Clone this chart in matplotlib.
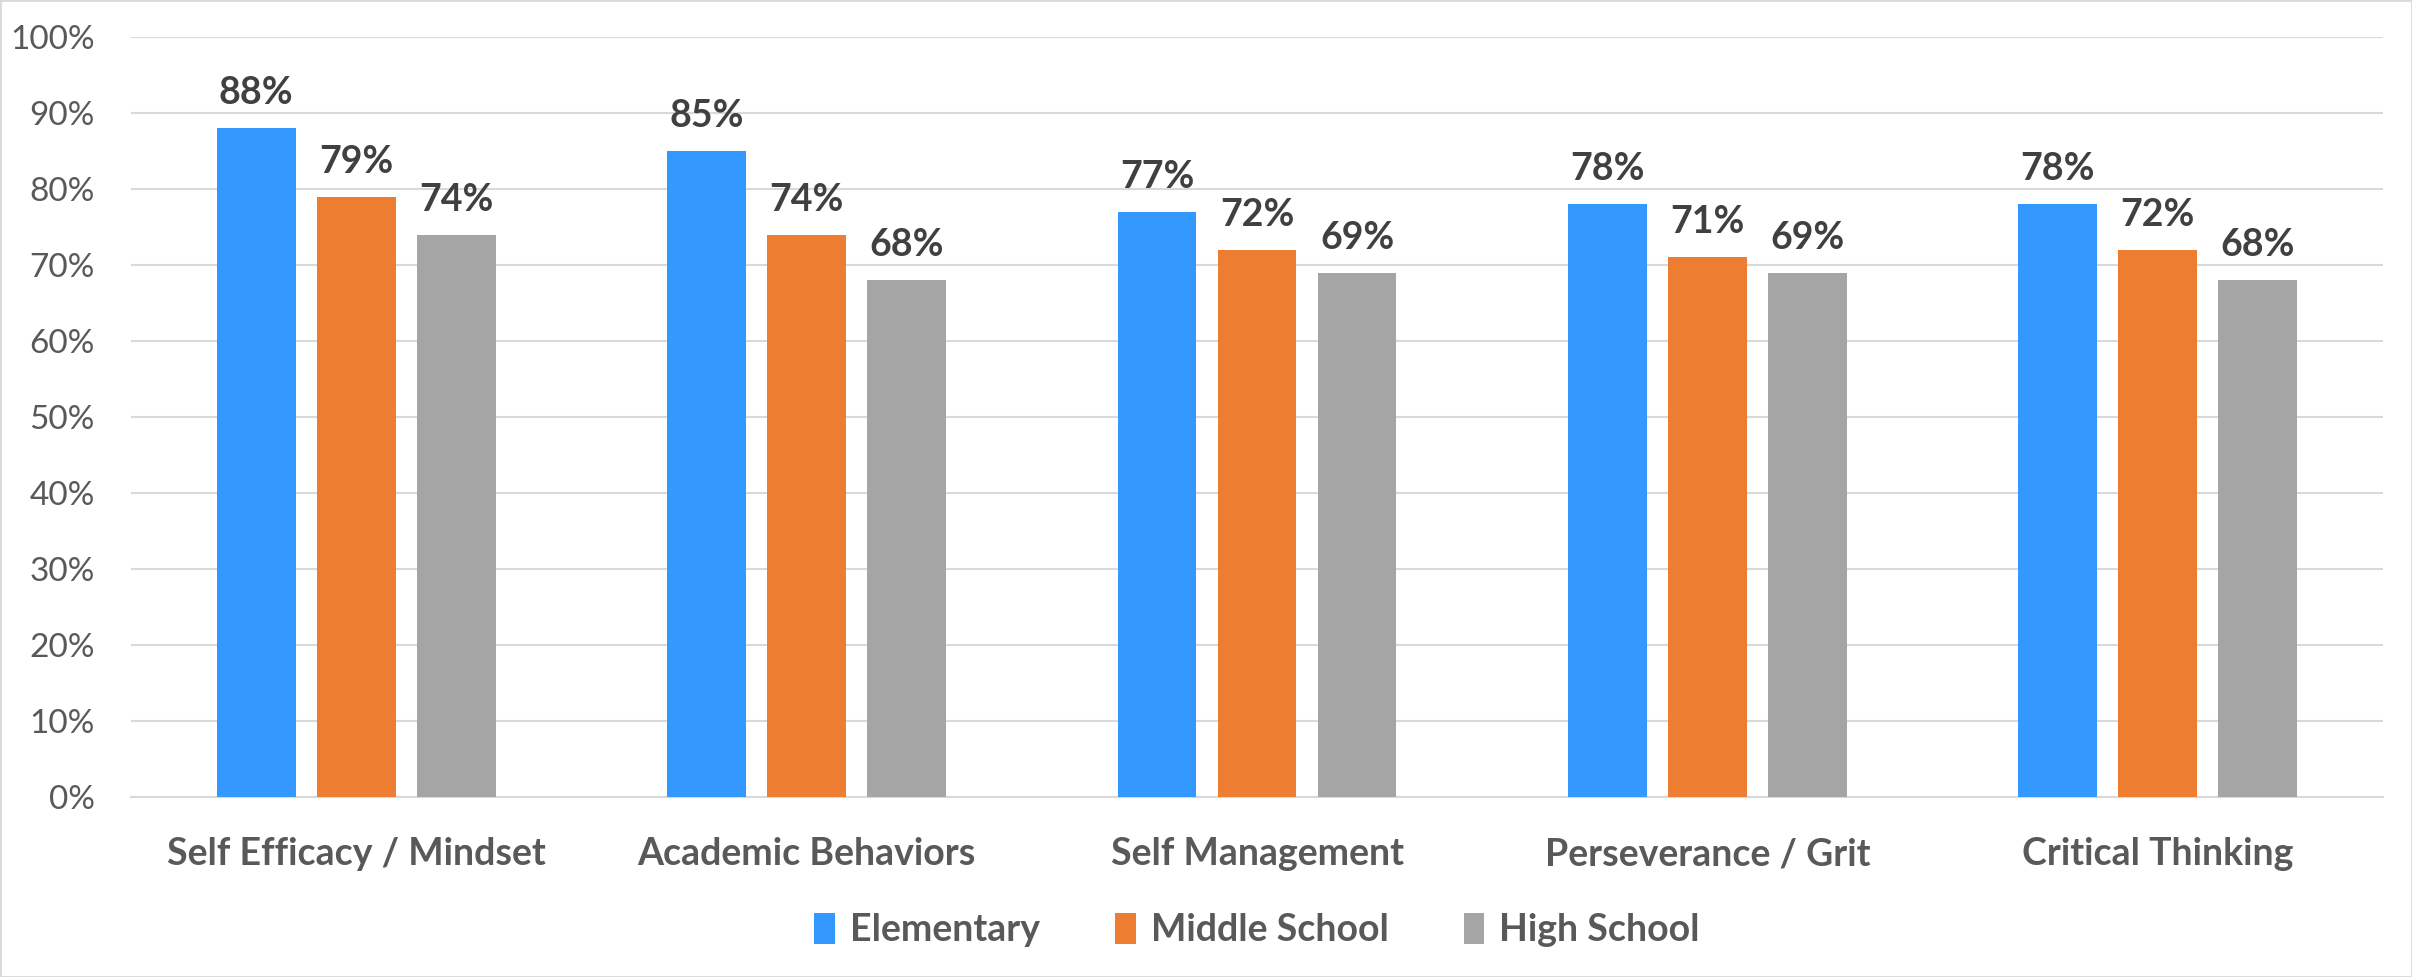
import numpy as np
import matplotlib.pyplot as plt
from matplotlib.patches import Rectangle

categories = ["Self Efficacy / Mindset", "Academic Behaviors", "Self Management",
              "Perseverance / Grit", "Critical Thinking"]
series = ["Elementary", "Middle School", "High School"]
elementary = [88, 85, 77, 78, 78]
middle = [79, 74, 72, 71, 72]
high = [74, 68, 69, 69, 68]
colors = ["#3399FF", "#ED7D31", "#A5A5A5"]

plt.rcParams['font.family'] = ['Lato', 'DejaVu Sans']

fig = plt.figure(figsize=(24.12, 9.77), dpi=100)
ax = fig.add_axes([0.0543, 0.1842, 0.9337, 0.7779])

x = np.arange(len(categories))
step = 0.222
width = 0.175
for i, (vals, name) in enumerate(zip([elementary, middle, high], series)):
    pos = x + (i - 1) * step
    v = np.array(vals) / 100
    ax.bar(pos, v, width, color=colors[i], label=name, zorder=3)
    for px, pv in zip(pos, v):
        ax.annotate(f"{pv:.0%}", (px, pv), xytext=(0, 13), textcoords="offset points",
                    ha="center", va="bottom", fontsize=27, fontweight="bold", color="#404040")

ax.set_xlim(-0.5, len(categories) - 0.5)
ax.set_ylim(0, 1.0)
ax.set_yticks(np.arange(0, 1.01, 0.1))
ax.set_yticklabels([f"{t}%" for t in range(0, 101, 10)])
ax.set_xticks(x)
ax.set_xticklabels(categories, fontsize=27, fontweight="bold", color="#595959")
ax.tick_params(axis="y", length=0, pad=26, labelsize=24, labelcolor="#595959")
ax.tick_params(axis="x", length=0, pad=29)
ax.grid(axis="y", color="#D9D9D9", linewidth=1.5, zorder=0)
for s in ["left", "right", "top"]:
    ax.spines[s].set_visible(False)
ax.spines["bottom"].set_color("#D9D9D9")
ax.spines["bottom"].set_linewidth(1.5)

leg = ax.legend(loc="center", bbox_to_anchor=(0.5, -0.175), ncol=3, frameon=False,
                fontsize=27, handlelength=0.55, handleheight=0.9, handletextpad=0.4,
                columnspacing=2.0)
for t in leg.get_texts():
    t.set_color("#595959")
    t.set_fontweight("bold")

fig.patches.append(Rectangle((0, 0), 1, 1, transform=fig.transFigure, fill=False,
                             edgecolor="#D9D9D9", linewidth=2))

fig.savefig("out.png", dpi=100)
